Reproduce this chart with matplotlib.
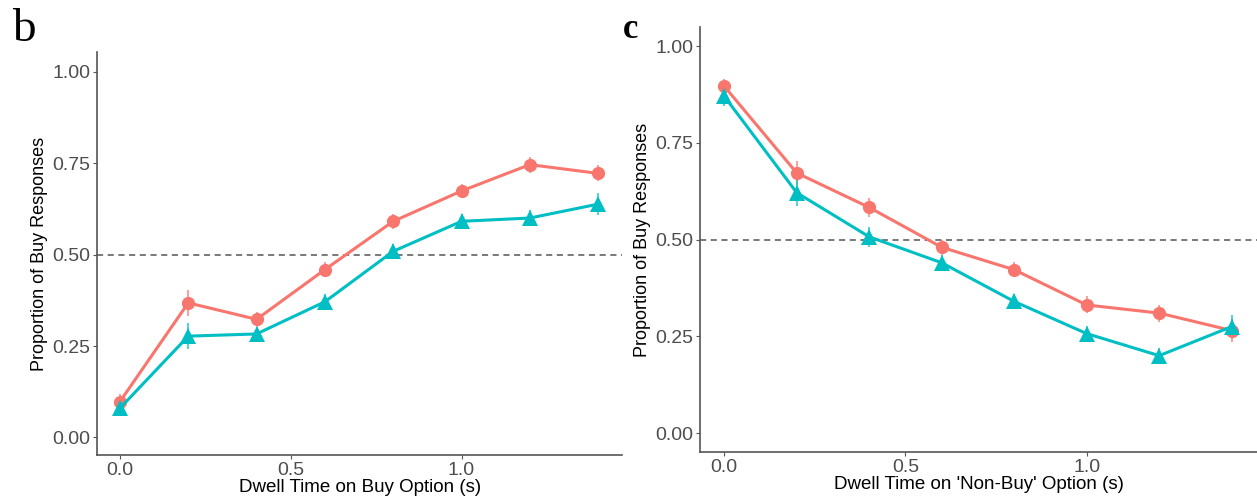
import numpy as np
import matplotlib.pyplot as plt

plt.rcParams['font.family'] = ['Liberation Sans', 'DejaVu Sans']

# dwell time bins (s)
dwell = [0.0, 0.2, 0.4, 0.6, 0.8, 1.0, 1.2, 1.4]

# panel b: dwell time on the buy option
buy_red = [0.098, 0.368, 0.323, 0.459, 0.591, 0.674, 0.746, 0.722]
buy_red_se = [0.02, 0.035, 0.02, 0.02, 0.02, 0.018, 0.022, 0.022]
buy_teal = [0.080, 0.277, 0.283, 0.371, 0.509, 0.591, 0.600, 0.638]
buy_teal_se = [0.015, 0.035, 0.02, 0.02, 0.02, 0.02, 0.022, 0.03]

# panel c: dwell time on the non-buy option
nonbuy_red = [0.896, 0.672, 0.583, 0.480, 0.422, 0.331, 0.310, 0.265]
nonbuy_red_se = [0.02, 0.03, 0.025, 0.02, 0.02, 0.022, 0.022, 0.03]
nonbuy_teal = [0.870, 0.621, 0.507, 0.440, 0.340, 0.257, 0.200, 0.275]
nonbuy_teal_se = [0.025, 0.035, 0.025, 0.02, 0.02, 0.02, 0.02, 0.03]

yticks = [0.0, 0.25, 0.5, 0.75, 1.0]
xticks = [0.0, 0.5, 1.0]

RED = '#F8766D'
TEAL = '#00BFC4'
AXIS_GREY = '#555555'
TICK_GREY = '#4D4D4D'


def draw_panel(ax, red, red_se, teal, teal_se, xlabel, ylim):
    ax.axhline(0.5, color='#555555', lw=1.1, ls=(0, (4, 3)), zorder=1)
    for vals, se, col, mk, ms in [(red, red_se, RED, 'o', 9.5),
                                  (teal, teal_se, TEAL, '^', 11)]:
        ax.errorbar(dwell, vals, yerr=se, fmt='none', ecolor=col,
                    elinewidth=1.2, alpha=0.8, zorder=2)
        ax.plot(dwell, vals, color=col, lw=2.2, marker=mk, ms=ms,
                markeredgewidth=0, zorder=3)
    ax.set_xlim(-0.067, 1.47)
    ax.set_ylim(*ylim)
    ax.set_xticks(xticks)
    ax.set_xticklabels(['0.0', '0.5', '1.0'])
    ax.set_yticks(yticks)
    ax.set_yticklabels(['0.00', '0.25', '0.50', '0.75', '1.00'])
    ax.tick_params(axis='both', colors=AXIS_GREY, labelcolor=TICK_GREY,
                   labelsize=14, length=3, width=0.8, pad=2)
    for side in ['top', 'right']:
        ax.spines[side].set_visible(False)
    for side in ['left', 'bottom']:
        ax.spines[side].set_color(AXIS_GREY)
        ax.spines[side].set_linewidth(1.2)
    ax.set_xlabel(xlabel, fontsize=13.5, color='black', labelpad=0)
    ax.set_ylabel('Proportion of Buy Responses', fontsize=13,
                  color='black', labelpad=3)


fig = plt.figure(figsize=(12.57, 4.97), dpi=100)

ax_b = fig.add_axes([0.0772, 0.0845, 0.4177, 0.8109])
draw_panel(ax_b, buy_red, buy_red_se, buy_teal, buy_teal_se,
           'Dwell Time on Buy Option (s)', (-0.048, 1.054))

ax_c = fig.add_axes([0.5569, 0.0905, 0.4431, 0.855])
draw_panel(ax_c, nonbuy_red, nonbuy_red_se, nonbuy_teal, nonbuy_teal_se,
           "Dwell Time on 'Non-Buy' Option (s)", (-0.049, 1.049))

fig.text(12 / 1257, 1 - 41 / 497, 'b', fontsize=34,
         family='Liberation Serif', va='baseline', ha='left')
fig.text(623 / 1257, 1 - 38 / 497, 'c', fontsize=25, fontweight='bold',
         family='Liberation Serif', va='baseline', ha='left')

fig.savefig('out.png', dpi=100)
